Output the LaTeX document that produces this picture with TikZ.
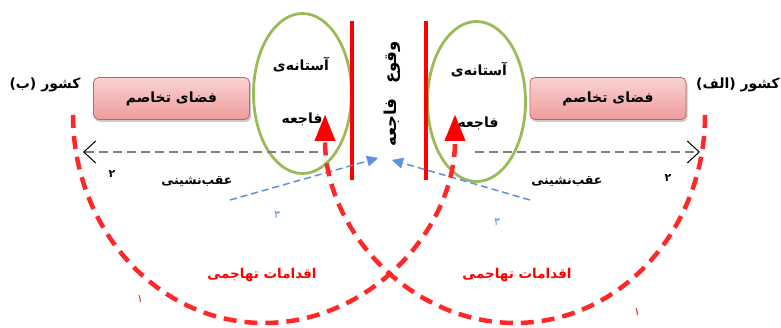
\documentclass[tikz,border=0pt]{standalone}
\usepackage{fontspec}
\newfontfamily\fa[Script=Arabic]{DejaVu Sans}
\TeXXeTstate=1
\usetikzlibrary{arrows.meta,shadows,shapes.geometric}
\definecolor{boxtop}{HTML}{FAD2D2}
\definecolor{boxbot}{HTML}{EF9C9C}
\definecolor{boxline}{HTML}{CC5F5D}
\definecolor{elgreen}{HTML}{9BBB59}
\definecolor{arrblue}{HTML}{5B93D6}
\definecolor{dgray}{HTML}{7F7F7F}
\definecolor{arcred}{HTML}{FF2828}
\definecolor{linered}{HTML}{FF0000}
\newcommand{\fatxt}[1]{{\fa\beginR #1\endR}}
\begin{document}
\begin{tikzpicture}[x=1pt,y=1pt,
  lbl/.style={inner sep=0pt, font=\fa\bfseries\fontsize{12}{14}\selectfont},
  thrtext/.style={inner sep=0pt, font=\fa\bfseries\fontsize{14}{16}\selectfont},
  country/.style={inner sep=0pt, font=\fa\bfseries\fontsize{14}{16}\selectfont},
  tbox/.style={draw=boxline, line width=0.8pt, rounded corners=5pt,
    top color=boxtop, bottom color=boxbot,
    minimum width=156pt, minimum height=42pt, inner sep=0pt,
    font=\fa\bfseries\fontsize{14}{16}\selectfont,
    drop shadow={shadow xshift=1.5pt, shadow yshift=-2.5pt, opacity=0.35, fill=black!60}},
  thresh/.style={ellipse, draw=elgreen, line width=2.8pt, minimum width=98pt, minimum height=160pt, inner sep=0pt},
  redline/.style={draw=linered, line width=3.2pt},
  retreat/.style={draw=dgray, line width=2.8pt, dash pattern=on 9pt off 5pt,
    -{Straight Barb[length=12pt,width=22pt,line width=1pt,color=black]}},
  hint/.style={draw=arrblue, line width=1.5pt, dash pattern=on 7pt off 4pt,
    -{Triangle[length=11pt,width=11pt,line width=0.3pt]}},
  attack/.style={draw=arcred, line width=4.5pt, dash pattern=on 13pt off 8pt,
    -{Triangle[length=26pt,width=21pt,line width=0.3pt,color=linered]}},
  numlbl/.style={inner sep=0pt, font=\fa\fontsize{11}{13}\selectfont}]
\useasboundingbox (0,0) rectangle (781,327);
% boxes
\node[tbox] (lbox) at (171.5,228.5) {\fatxt{فضای تخاصم}};
\node[tbox] (rbox) at (608,228.5) {\fatxt{فضای تخاصم}};
% countries
\node[country] (lctry) at (45,242) {\fatxt{کشور (ب)}};
\node[country] (rctry) at (738,242) {\fatxt{کشور (الف)}};
% thresholds
\node[thresh] (lthr) at (302.5,233.5) {};
\node[thresh] (rthr) at (476.5,225.5) {};
\node[thrtext] (lthra) at (301,262) {\fatxt{آستانه‌ی}};
\node[thrtext] (lthrb) at (302,208) {\fatxt{فاجعه}};
\node[thrtext] (rthra) at (479,257) {\fatxt{آستانه‌ی}};
\node[thrtext] (rthrb) at (478,204) {\fatxt{فاجعه}};
% red border lines
\coordinate (lrt) at (352,306); \coordinate (lrb) at (352,147);
\coordinate (rrt) at (426,306); \coordinate (rrb) at (426,147);
\draw[redline] (lrt) -- (lrb);
\draw[redline] (rrt) -- (rrb);
% event
\node[inner sep=0pt, rotate=90, font=\fa\bfseries\fontsize{16.5}{18}\selectfont] (event) at (392,233) {\fatxt{وقوع\hspace{9pt} فاجعه}};
% retreat arrows
\coordinate (lgs) at (318,175); \coordinate (lge) at (83,175);
\coordinate (rgs) at (475,175); \coordinate (rge) at (700,175);
\draw[retreat] (lgs) -- (lge);
\draw[retreat] (rgs) -- (rge);
\node[numlbl, font=\fa\bfseries\fontsize{11}{13}\selectfont] (ltwo) at (112,153) {۲};
\node[numlbl, font=\fa\bfseries\fontsize{11}{13}\selectfont] (rtwo) at (668,149) {۲};
\node[lbl, font=\fa\bfseries\fontsize{12.5}{14}\selectfont] (lret) at (197,145) {\fatxt{عقب‌نشینی}};
\node[lbl, font=\fa\bfseries\fontsize{12.5}{14}\selectfont] (rret) at (567,145) {\fatxt{عقب‌نشینی}};
% blue hints
\coordinate (lbs) at (230,127); \coordinate (lbe) at (378,169);
\coordinate (rbs) at (530,127); \coordinate (rbe) at (392,167);
\draw[hint] (lbs) -- (lbe);
\draw[hint] (rbs) -- (rbe);
\node[numlbl, text=arrblue] (lthree) at (277,112) {۳};
\node[numlbl, text=arrblue] (rthree) at (497,105) {۳};
% attacks
\coordinate (las) at (73,212);
\coordinate (ras) at (705,212);
\draw[attack] (las) arc[start angle=180, end angle=360, x radius=191pt, y radius=208pt] coordinate (lae);
\draw[attack] (ras) arc[start angle=0, end angle=-180, x radius=190pt, y radius=208pt] coordinate (rae);
\node[lbl, text=linered, font=\fa\bfseries\fontsize{13.5}{15}\selectfont] (latt) at (262,52) {\fatxt{اقدامات تهاجمی}};
\node[lbl, text=linered, font=\fa\bfseries\fontsize{13.5}{15}\selectfont] (ratt) at (517,52) {\fatxt{اقدامات تهاجمی}};
\node[numlbl, text=linered] (lone) at (140,28) {۱};
\node[numlbl, text=linered] (rone) at (637,15) {۱};
\end{tikzpicture}
\end{document}
